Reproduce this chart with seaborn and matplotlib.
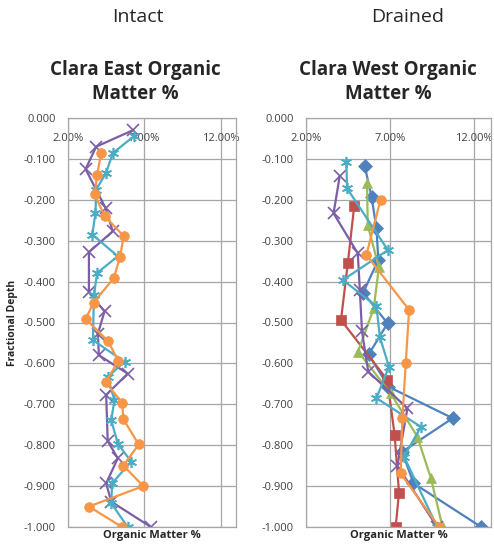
import numpy as np
import pandas as pd
import seaborn as sns
import matplotlib.pyplot as plt

sns.set_theme(style="white")
plt.rcParams["font.family"] = ["Open Sans", "DejaVu Sans"]

# Excel 2010 default series colours / markers
colors = {"s1": "#4F81BD", "s2": "#C0504D", "s3": "#9BBB59",
          "s4": "#7B5EA7", "s5": "#4BACC6", "s6": "#F79646"}
markers = {"s1": "D", "s2": "s", "s3": "^", "s4": "x", "s5": (6, 2, 0), "s6": "o"}

# ---- Clara East (intact) ----
east_s4_om = [6.24, 3.85, 3.15, 4.46, 4.93, 3.37, 3.37, 4.39, 3.96, 4.02, 5.91, 4.50, 4.60, 5.26, 4.50, 4.83, 7.43]
east_s4_depth = [-0.03, -0.07, -0.125, -0.22, -0.277, -0.328, -0.426, -0.473, -0.527, -0.58, -0.625, -0.677, -0.79, -0.832, -0.893, -0.938, -1.0]

east_s5_om = [6.30, 4.93, 4.50, 3.85, 3.80, 3.59, 5.26, 3.91, 3.70, 3.63, 5.70, 4.60, 5.04, 4.83, 5.26, 6.13, 4.89, 4.83, 5.91]
east_s5_depth = [-0.045, -0.086, -0.134, -0.175, -0.232, -0.285, -0.338, -0.379, -0.432, -0.543, -0.596, -0.633, -0.69, -0.739, -0.796, -0.84, -0.893, -0.942, -1.0]

east_s6_om = [4.17, 3.91, 3.74, 4.39, 5.65, 5.40, 5.00, 3.67, 3.15, 4.61, 5.30, 4.46, 5.54, 5.63, 6.63, 5.63, 6.93, 3.37, 5.54]
east_s6_depth = [-0.086, -0.139, -0.187, -0.239, -0.289, -0.34, -0.391, -0.452, -0.491, -0.545, -0.594, -0.646, -0.696, -0.737, -0.798, -0.85, -0.9, -0.95, -1.0]

# ---- Clara West (drained) ----
west_s1_om = [5.49, 5.90, 6.19, 6.30, 5.40, 6.85, 5.73, 6.90, 10.72, 7.72, 8.39, 12.42]
west_s1_depth = [-0.117, -0.193, -0.27, -0.347, -0.427, -0.502, -0.578, -0.657, -0.734, -0.816, -0.893, -1.0]

west_s2_om = [4.87, 4.49, 4.08, 6.83, 7.27, 7.53, 7.33]
west_s2_depth = [-0.214, -0.354, -0.494, -0.64, -0.775, -0.916, -1.0]

west_s3_om = [5.63, 5.67, 6.33, 6.03, 5.10, 7.03, 8.62, 9.43, 10.12]
west_s3_depth = [-0.158, -0.262, -0.365, -0.465, -0.571, -0.673, -0.779, -0.881, -1.0]

west_s4_om = [4.00, 3.64, 5.08, 5.20, 5.33, 5.70, 8.03, 7.43, 9.80]
west_s4_depth = [-0.143, -0.233, -0.331, -0.42, -0.522, -0.62, -0.71, -0.85, -1.0]

west_s5_om = [4.40, 4.44, 6.87, 4.19, 6.19, 6.39, 6.93, 6.19, 8.83, 7.83, 9.80]
west_s5_depth = [-0.107, -0.172, -0.323, -0.396, -0.46, -0.535, -0.608, -0.685, -0.755, -0.828, -1.0]

west_s6_om = [6.43, 5.59, 8.13, 7.93, 7.73, 7.63, 9.92]
west_s6_depth = [-0.2, -0.335, -0.469, -0.6, -0.734, -0.869, -1.0]

east = {"s4": (east_s4_om, east_s4_depth), "s5": (east_s5_om, east_s5_depth),
        "s6": (east_s6_om, east_s6_depth)}
west = {"s1": (west_s1_om, west_s1_depth), "s2": (west_s2_om, west_s2_depth),
        "s3": (west_s3_om, west_s3_depth), "s4": (west_s4_om, west_s4_depth),
        "s5": (west_s5_om, west_s5_depth), "s6": (west_s6_om, west_s6_depth)}

xticks = [2, 7, 12]
xticklabels = ["2.00%", "7.00%", "12.00%"]
yticks = [0.0, -0.1, -0.2, -0.3, -0.4, -0.5, -0.6, -0.7, -0.8, -0.9, -1.0]

fig = plt.figure(figsize=(4.94, 5.49), dpi=100)
ax1 = fig.add_axes([68 / 494, 1 - 527 / 549, 168 / 494, 409 / 549])
ax2 = fig.add_axes([306 / 494, 1 - 527 / 549, 185 / 494, 409 / 549])


def draw(ax, series):
    for key, (om, depth) in series.items():
        df = pd.DataFrame({"om": om, "depth": depth})
        m = markers[key]
        filled = m not in ("x",) and not isinstance(m, tuple)
        sns.lineplot(data=df, x="om", y="depth", sort=False, estimator=None,
                     ax=ax, color=colors[key], lw=1.6, marker=m,
                     markersize=7 if filled else 8,
                     markeredgewidth=0.5 if filled else 1.2,
                     markeredgecolor=colors[key])
    ax.set_xlim(2, 13)
    ax.set_ylim(-1.0, 0.0)
    ax.set_xticks(xticks)
    ax.set_xticklabels(xticklabels)
    ax.set_yticks(yticks)
    ax.set_yticklabels([f"{v:.3f}" for v in yticks])
    ax.xaxis.tick_top()
    ax.tick_params(axis="x", top=False, labeltop=True, bottom=False,
                   labelbottom=False, pad=-25, labelsize=8, colors="#404040")
    ax.tick_params(axis="y", left=False, labelsize=8, colors="#404040", pad=3)
    ax.grid(True, color="#A6A6A6", lw=0.9)
    for s in ax.spines.values():
        s.set_color("#A6A6A6")
        s.set_linewidth(0.9)
    ax.set_xlabel("Organic Matter %", fontsize=8, fontweight="bold", labelpad=2)
    ax.xaxis.set_label_position("bottom")
    ax.set_ylabel("")


draw(ax1, east)
draw(ax2, west)
ax1.set_ylabel("Fractional Depth", fontsize=7.5, fontweight="bold", labelpad=4)

fig.text(138 / 494, 1 - 17 / 549, "Intact", ha="center", va="center", fontsize=14)
fig.text(408 / 494, 1 - 17 / 549, "Drained", ha="center", va="center", fontsize=14)
fig.text(135 / 494, 1 - 82 / 549, "Clara East Organic\nMatter %", ha="center",
         va="center", fontsize=13.5, fontweight="bold", linespacing=1.25)
fig.text(388 / 494, 1 - 82 / 549, "Clara West Organic\nMatter %", ha="center",
         va="center", fontsize=13.5, fontweight="bold", linespacing=1.25)

fig.savefig("out.png", dpi=100)
